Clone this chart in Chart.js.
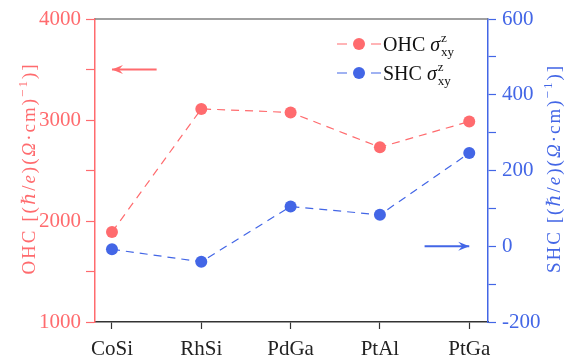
<!DOCTYPE html>
<html>
<head>
<meta charset="utf-8">
<script src="https://cdn.jsdelivr.net/npm/chart.js@4"></script>
<style>
html,body{margin:0;padding:0;background:#fff;}
#wrap{width:564px;height:358px;}
</style>
</head>
<body>
<div id="wrap"><canvas id="c" width="564" height="358"></canvas></div>
<script>
const categories = ['CoSi', 'RhSi', 'PdGa', 'PtAl', 'PtGa'];
const ohcValues = [1890, 3110, 3075, 2730, 2985];
const shcValues = [-8, -41, 105, 83, 246];
const ohcTicks = [1000, 1500, 2000, 2500, 3000, 3500, 4000];
const shcTicks = [-200, -100, 0, 100, 200, 300, 400, 500, 600];

const RED = '#ff6b6e';
const BLUE = '#4366e6';
const SERIF = '"Liberation Serif", "DejaVu Serif", serif';

function drawTitle(ctx, prefix, cx, cy, color) {
  const segs = [
    {t: prefix + ' [(', s: 'n'}, {t: 'ℏ', s: 'i'}, {t: '/', s: 'n'}, {t: 'e', s: 'i'},
    {t: ')(', s: 'n'}, {t: 'Ω', s: 'i'}, {t: '·cm)', s: 'n'}, {t: '−1', s: 'sup'}, {t: ')]', s: 'n'}
  ];
  const fonts = {n: '19px ' + SERIF, i: 'italic 19px ' + SERIF, sup: '13px ' + SERIF};
  ctx.save();
  ctx.letterSpacing = '2px';
  let total = 0;
  segs.forEach(g => { ctx.font = fonts[g.s]; g.w = ctx.measureText(g.t).width; total += g.w; });
  ctx.translate(cx, cy);
  ctx.rotate(-Math.PI / 2);
  ctx.fillStyle = color;
  ctx.textAlign = 'left';
  ctx.textBaseline = 'alphabetic';
  let x = -total / 2;
  segs.forEach(g => {
    ctx.font = fonts[g.s];
    ctx.fillText(g.t, x, g.s === 'sup' ? -8 : 0);
    x += g.w;
  });
  ctx.restore();
}

const decorPlugin = {
  id: 'decor',
  afterDraw(chart) {
    const ctx = chart.ctx;
    const ca = chart.chartArea;
    const xs = chart.scales.x, ys = chart.scales.y, y2 = chart.scales.y2;
    ctx.save();
    // top frame line
    ctx.strokeStyle = '#808080';
    ctx.lineWidth = 1.5;
    ctx.beginPath();
    ctx.moveTo(ca.left, ca.top);
    ctx.lineTo(ca.right, ca.top);
    ctx.stroke();
    // arrows
    function arrow(x1, x2, y, color, dir) {
      ctx.strokeStyle = color;
      ctx.fillStyle = color;
      ctx.lineWidth = 2;
      ctx.beginPath();
      ctx.moveTo(x1, y);
      ctx.lineTo(x2, y);
      ctx.stroke();
      const tip = dir < 0 ? Math.min(x1, x2) : Math.max(x1, x2);
      ctx.beginPath();
      ctx.moveTo(tip, y);
      ctx.lineTo(tip - dir * 11, y - 4.5);
      ctx.lineTo(tip - dir * 7, y);
      ctx.lineTo(tip - dir * 11, y + 4.5);
      ctx.closePath();
      ctx.fill();
    }
    arrow(xs.getPixelForValue(0), xs.getPixelForValue(0.5), ys.getPixelForValue(3500), RED, -1);
    arrow(xs.getPixelForValue(3.5), xs.getPixelForValue(4), y2.getPixelForValue(0), BLUE, 1);

    // axis titles (both read bottom-to-top)
    const midY = (ca.top + ca.bottom) / 2 - 2;
    drawTitle(ctx, 'OHC', 35, midY, RED);
    drawTitle(ctx, 'SHC', 560, midY, BLUE);

    // legend
    const rows = [
      {name: 'OHC ', color: RED, y: 44},
      {name: 'SHC ', color: BLUE, y: 73}
    ];
    rows.forEach(r => {
      ctx.strokeStyle = r.color;
      ctx.fillStyle = r.color;
      ctx.lineWidth = 1.2;
      ctx.beginPath();
      ctx.moveTo(337, r.y); ctx.lineTo(347, r.y);
      ctx.moveTo(371, r.y); ctx.lineTo(381, r.y);
      ctx.stroke();
      ctx.beginPath();
      ctx.arc(359, r.y, 6, 0, Math.PI * 2);
      ctx.fill();
      ctx.fillStyle = '#111';
      ctx.textBaseline = 'alphabetic';
      ctx.textAlign = 'left';
      ctx.font = '20px ' + SERIF;
      let x = 383;
      const base = r.y + 7;
      ctx.fillText(r.name, x, base);
      x += ctx.measureText(r.name).width;
      ctx.font = 'italic 20px ' + SERIF;
      ctx.fillText('σ', x, base);
      x += ctx.measureText('σ').width + 1;
      ctx.font = '13px ' + SERIF;
      ctx.fillText('z', x, base - 9);
      ctx.fillText('xy', x, base + 5);
    });
    ctx.restore();
  }
};

const cfg = {
  type: 'line',
  data: {
    datasets: [
      {
        label: 'OHC',
        data: categories.map((c, i) => ({x: i, y: ohcValues[i]})),
        yAxisID: 'y',
        borderColor: RED,
        backgroundColor: RED,
        borderWidth: 1.2,
        borderDash: [8, 6],
        pointRadius: 6,
        pointBorderWidth: 0,
        pointBackgroundColor: RED
      },
      {
        label: 'SHC',
        data: categories.map((c, i) => ({x: i, y: shcValues[i]})),
        yAxisID: 'y2',
        borderColor: BLUE,
        backgroundColor: BLUE,
        borderWidth: 1.2,
        borderDash: [8, 6],
        pointRadius: 6,
        pointBorderWidth: 0,
        pointBackgroundColor: BLUE
      }
    ]
  },
  options: {
    responsive: false,
    animation: false,
    layout: {padding: {top: 19, left: 0, right: 0, bottom: 0}},
    plugins: {legend: {display: false}, tooltip: {enabled: false}},
    scales: {
      x: {
        type: 'linear',
        position: 'bottom',
        min: -0.19,
        max: 4.21,
        afterBuildTicks: s => { s.ticks = categories.map((c, i) => ({value: i})); },
        afterFit: s => { s.height = 36; },
        ticks: {
          callback: v => categories[v] ?? '',
          color: '#222',
          font: {family: SERIF, size: 21},
          padding: 8,
          maxRotation: 0,
          autoSkip: false
        },
        grid: {drawOnChartArea: false, tickLength: 7, color: '#333', tickWidth: 1.2},
        border: {color: '#333', width: 1.5}
      },
      y: {
        position: 'left',
        min: 1000,
        max: 4000,
        afterBuildTicks: s => { s.ticks = ohcTicks.map(v => ({value: v})); },
        afterFit: s => { s.width = 95; },
        ticks: {
          callback: v => (v % 1000 === 0 ? String(v) : ''),
          color: RED,
          font: {family: SERIF, size: 21},
          padding: 5
        },
        grid: {drawOnChartArea: false, tickLength: 9, color: RED, tickWidth: 1.2},
        border: {color: RED, width: 1.5}
      },
      y2: {
        position: 'right',
        min: -200,
        max: 600,
        afterBuildTicks: s => { s.ticks = shcTicks.map(v => ({value: v})); },
        afterFit: s => { s.width = 76; },
        ticks: {
          callback: v => (v % 200 === 0 ? String(v) : ''),
          color: BLUE,
          font: {family: SERIF, size: 21},
          padding: 6
        },
        grid: {drawOnChartArea: false, tickLength: 8, color: BLUE, tickWidth: 1.2},
        border: {color: BLUE, width: 1.5}
      }
    }
  },
  plugins: [decorPlugin]
};

new Chart(document.getElementById('c'), cfg);
</script>
</body>
</html>
